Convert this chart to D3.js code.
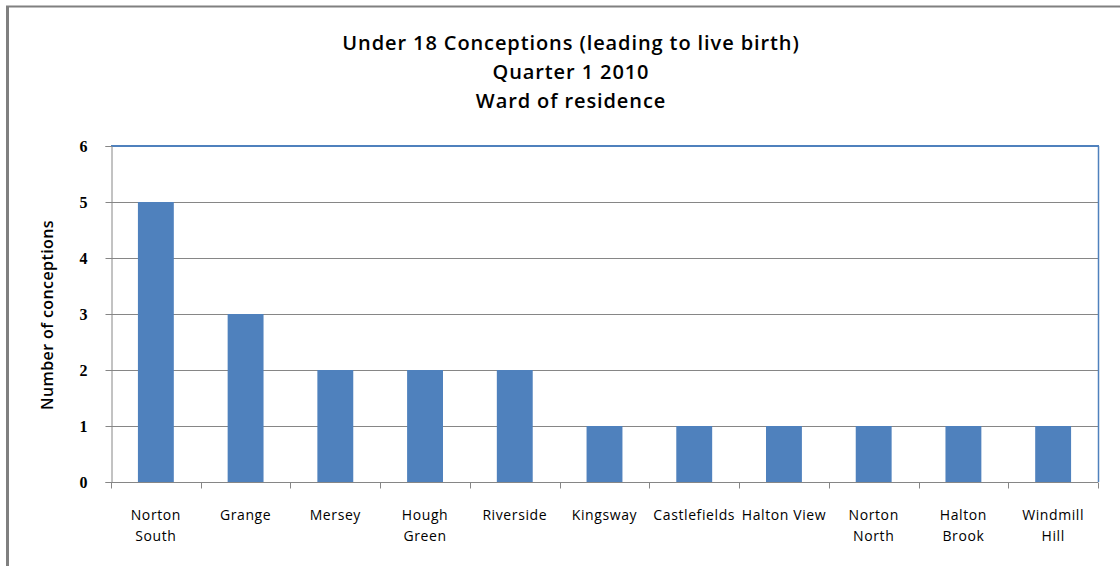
<!DOCTYPE html>
<html>
<head>
<meta charset="utf-8">
<script src="https://cdn.jsdelivr.net/npm/d3@7"></script>
<style>
  body { margin: 0; background: #fff; }
  svg text { font-family: "Open Sans", Lato, sans-serif; fill: #000; }
  svg .ytick-label { font-family: "Liberation Serif", "DejaVu Serif", serif; }
</style>
</head>
<body>
<div id="chart"></div>
<script>
// chart data
const wards = ['Norton South', 'Grange', 'Mersey', 'Hough Green', 'Riverside', 'Kingsway',
    'Castlefields', 'Halton View', 'Norton North', 'Halton Brook', 'Windmill Hill'];
// how each label wraps onto two lines
const wardLines = [['Norton', 'South'], ['Grange'], ['Mersey'], ['Hough', 'Green'], ['Riverside'],
    ['Kingsway'], ['Castlefields'], ['Halton View'], ['Norton', 'North'], ['Halton', 'Brook'], ['Windmill', 'Hill']];
const conceptions = [5, 3, 2, 2, 2, 1, 1, 1, 1, 1, 1];
const yTicks = [0, 1, 2, 3, 4, 5, 6];
const titleLines = ['Under 18 Conceptions (leading to live birth)', 'Quarter 1 2010', 'Ward of residence'];

const width = 1120, height = 566;
const plot = { left: 111, right: 1098, top: 146, bottom: 482 };
const barColor = '#4f81bd';

const svg = d3.select('#chart').append('svg')
    .attr('width', width)
    .attr('height', height);

svg.append('rect').attr('width', width).attr('height', height).attr('fill', '#fff');

// outer frame (top + left edges only visible)
svg.append('line').attr('x1', 6).attr('x2', width).attr('y1', 6.5).attr('y2', 6.5)
    .attr('stroke', '#808080').attr('stroke-width', 2);
svg.append('line').attr('x1', 7.5).attr('x2', 7.5).attr('y1', 6).attr('y2', height)
    .attr('stroke', '#808080').attr('stroke-width', 3);

// title
svg.append('g').selectAll('text')
    .data(titleLines).enter()
    .append('text')
    .attr('x', 571)
    .attr('y', (d, i) => 50 + i * 29)
    .attr('text-anchor', 'middle')
    .attr('font-size', 20)
    .attr('font-weight', 600)
    .attr('letter-spacing', 0.9)
    .text(d => d);

const x = d3.scaleBand()
    .domain(wards)
    .range([plot.left, plot.right])
    .padding(0);

const y = d3.scaleLinear()
    .domain([0, 6])
    .range([plot.bottom, plot.top]);

// gridlines
svg.append('g').selectAll('line')
    .data(yTicks.filter(t => t > 0 && t < 6)).enter()
    .append('line')
    .attr('x1', plot.left).attr('x2', plot.right)
    .attr('y1', d => Math.round(y(d)) + 0.5).attr('y2', d => Math.round(y(d)) + 0.5)
    .attr('stroke', '#868686').attr('stroke-width', 1);

// bars: gap width 150% -> bar is 40% of the band
const barW = x.bandwidth() * 0.4;
svg.append('g').selectAll('rect')
    .data(conceptions).enter()
    .append('rect')
    .attr('x', (d, i) => x(wards[i]) + (x.bandwidth() - barW) / 2)
    .attr('y', d => y(d))
    .attr('width', barW)
    .attr('height', d => y(0) - y(d))
    .attr('fill', barColor);

// plot border: top and right in blue
svg.append('line').attr('x1', plot.left).attr('x2', plot.right + 1)
    .attr('y1', plot.top).attr('y2', plot.top)
    .attr('stroke', barColor).attr('stroke-width', 2);
svg.append('line').attr('x1', plot.right + 0.5).attr('x2', plot.right + 0.5)
    .attr('y1', plot.top).attr('y2', plot.bottom)
    .attr('stroke', barColor).attr('stroke-width', 1.5);

// y axis
const yAxis = svg.append('g')
    .attr('transform', 'translate(' + (plot.left + 0.5) + ',0)')
    .call(d3.axisLeft(y).tickValues(yTicks).tickSize(6).tickPadding(18).tickFormat(d3.format('d')));
yAxis.select('.domain').attr('stroke', '#868686');
yAxis.selectAll('.tick line').attr('stroke', '#868686');
yAxis.selectAll('.tick text')
    .attr('class', 'ytick-label')
    .attr('font-size', 16)
    .attr('font-weight', 'bold');

// x axis
const xAxis = svg.append('g')
    .attr('transform', 'translate(0,' + (plot.bottom + 0.5) + ')');
xAxis.append('line')
    .attr('x1', plot.left).attr('x2', plot.right)
    .attr('stroke', '#868686');
xAxis.selectAll('.xtick')
    .data(d3.range(wards.length + 1)).enter()
    .append('line')
    .attr('class', 'xtick')
    .attr('x1', i => Math.round(plot.left + i * x.step()) + 0.5)
    .attr('x2', i => Math.round(plot.left + i * x.step()) + 0.5)
    .attr('y1', 0).attr('y2', 6)
    .attr('stroke', '#868686');

const labels = xAxis.selectAll('.xlabel')
    .data(wards).enter()
    .append('text')
    .attr('class', 'xlabel')
    .attr('text-anchor', 'middle')
    .attr('font-size', 14)
    .attr('letter-spacing', 0.6)
    .attr('transform', d => 'translate(' + (x(d) + x.bandwidth() / 2) + ',0)');
labels.selectAll('tspan')
    .data((d, i) => wardLines[i]).enter()
    .append('tspan')
    .attr('x', 0)
    .attr('y', (d, i) => 37 + i * 21)
    .text(d => d);

// y axis title
svg.append('text')
    .attr('transform', 'translate(53,315) rotate(-90)')
    .attr('text-anchor', 'middle')
    .attr('font-size', 16)
    .attr('font-weight', 600)
    .attr('letter-spacing', 0.4)
    .text('Number of conceptions');
</script>
</body>
</html>
